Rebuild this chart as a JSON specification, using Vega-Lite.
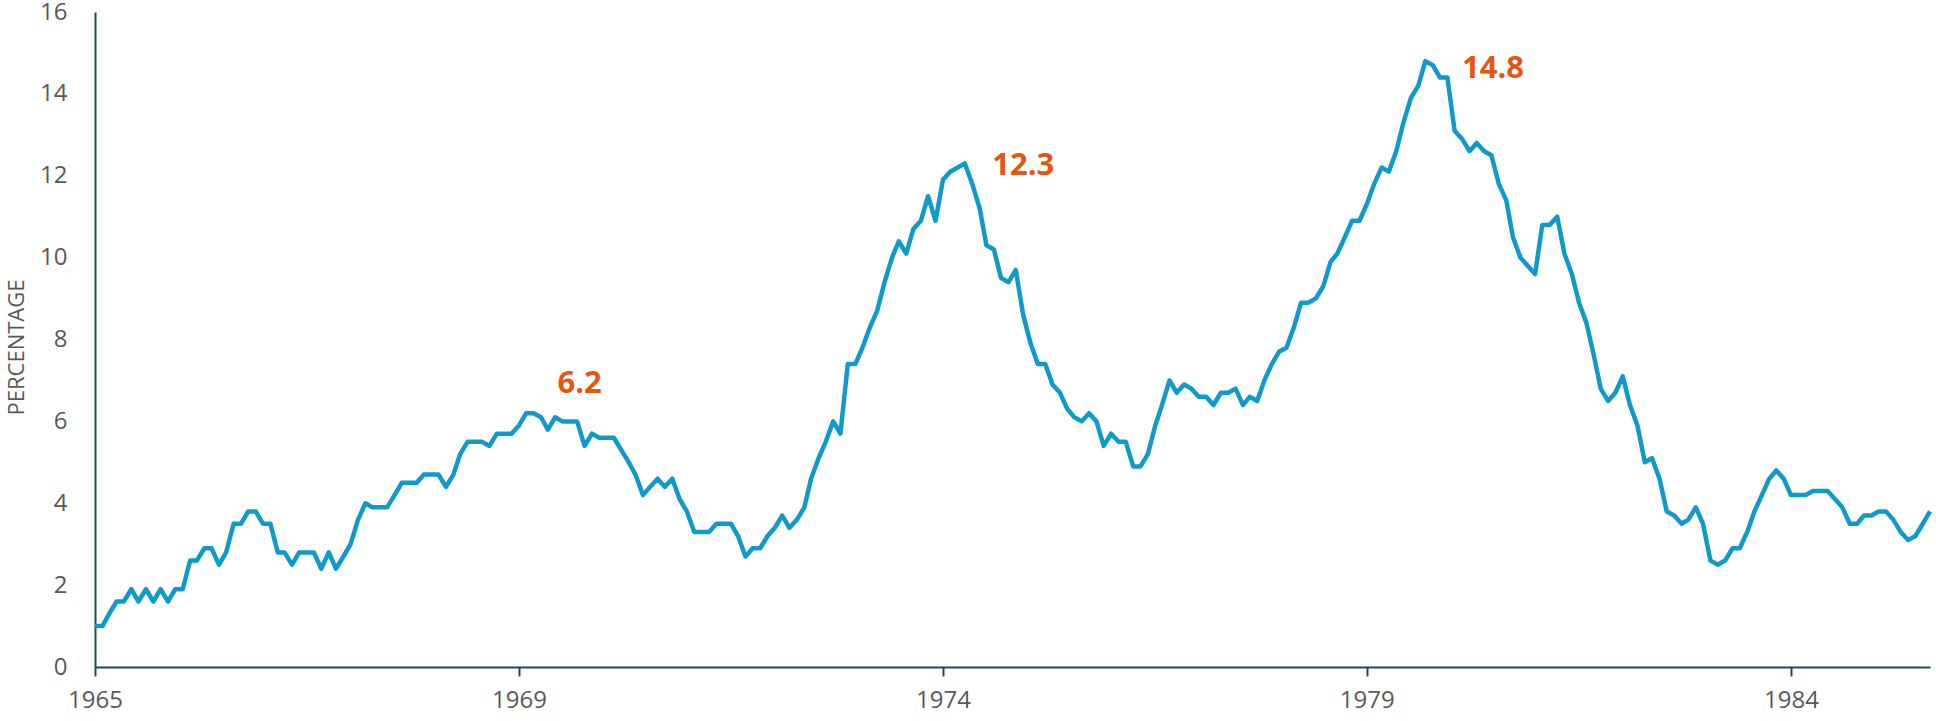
{
  "$schema": "https://vega.github.io/schema/vega-lite/v6.json",
  "autosize": {"type": "none"},
  "padding": {"left": 95, "top": 12, "right": 6, "bottom": 54},
  "width": 1835,
  "height": 655,
  "background": "white",
  "config": {"view": {"stroke": null}, "font": "Open Sans"},
  "layer": [
    {
      "data": {"values": [
        {"d":"1965/01/01","v":1.0},{"d":"1965/02/01","v":1.0},{"d":"1965/03/01","v":1.3},{"d":"1965/04/01","v":1.6},{"d":"1965/05/01","v":1.6},{"d":"1965/06/01","v":1.9},{"d":"1965/07/01","v":1.6},{"d":"1965/08/01","v":1.9},{"d":"1965/09/01","v":1.6},{"d":"1965/10/01","v":1.9},{"d":"1965/11/01","v":1.6},{"d":"1965/12/01","v":1.9},
        {"d":"1966/01/01","v":1.9},{"d":"1966/02/01","v":2.6},{"d":"1966/03/01","v":2.6},{"d":"1966/04/01","v":2.9},{"d":"1966/05/01","v":2.9},{"d":"1966/06/01","v":2.5},{"d":"1966/07/01","v":2.8},{"d":"1966/08/01","v":3.5},{"d":"1966/09/01","v":3.5},{"d":"1966/10/01","v":3.8},{"d":"1966/11/01","v":3.8},{"d":"1966/12/01","v":3.5},
        {"d":"1967/01/01","v":3.5},{"d":"1967/02/01","v":2.8},{"d":"1967/03/01","v":2.8},{"d":"1967/04/01","v":2.5},{"d":"1967/05/01","v":2.8},{"d":"1967/06/01","v":2.8},{"d":"1967/07/01","v":2.8},{"d":"1967/08/01","v":2.4},{"d":"1967/09/01","v":2.8},{"d":"1967/10/01","v":2.4},{"d":"1967/11/01","v":2.7},{"d":"1967/12/01","v":3.0},
        {"d":"1968/01/01","v":3.6},{"d":"1968/02/01","v":4.0},{"d":"1968/03/01","v":3.9},{"d":"1968/04/01","v":3.9},{"d":"1968/05/01","v":3.9},{"d":"1968/06/01","v":4.2},{"d":"1968/07/01","v":4.5},{"d":"1968/08/01","v":4.5},{"d":"1968/09/01","v":4.5},{"d":"1968/10/01","v":4.7},{"d":"1968/11/01","v":4.7},{"d":"1968/12/01","v":4.7},
        {"d":"1969/01/01","v":4.4},{"d":"1969/02/01","v":4.7},{"d":"1969/03/01","v":5.2},{"d":"1969/04/01","v":5.5},{"d":"1969/05/01","v":5.5},{"d":"1969/06/01","v":5.5},{"d":"1969/07/01","v":5.4},{"d":"1969/08/01","v":5.7},{"d":"1969/09/01","v":5.7},{"d":"1969/10/01","v":5.7},{"d":"1969/11/01","v":5.9},{"d":"1969/12/01","v":6.2},
        {"d":"1970/01/01","v":6.2},{"d":"1970/02/01","v":6.1},{"d":"1970/03/01","v":5.8},{"d":"1970/04/01","v":6.1},{"d":"1970/05/01","v":6.0},{"d":"1970/06/01","v":6.0},{"d":"1970/07/01","v":6.0},{"d":"1970/08/01","v":5.4},{"d":"1970/09/01","v":5.7},{"d":"1970/10/01","v":5.6},{"d":"1970/11/01","v":5.6},{"d":"1970/12/01","v":5.6},
        {"d":"1971/01/01","v":5.3},{"d":"1971/02/01","v":5.0},{"d":"1971/03/01","v":4.7},{"d":"1971/04/01","v":4.2},{"d":"1971/05/01","v":4.4},{"d":"1971/06/01","v":4.6},{"d":"1971/07/01","v":4.4},{"d":"1971/08/01","v":4.6},{"d":"1971/09/01","v":4.1},{"d":"1971/10/01","v":3.8},{"d":"1971/11/01","v":3.3},{"d":"1971/12/01","v":3.3},
        {"d":"1972/01/01","v":3.3},{"d":"1972/02/01","v":3.5},{"d":"1972/03/01","v":3.5},{"d":"1972/04/01","v":3.5},{"d":"1972/05/01","v":3.2},{"d":"1972/06/01","v":2.7},{"d":"1972/07/01","v":2.9},{"d":"1972/08/01","v":2.9},{"d":"1972/09/01","v":3.2},{"d":"1972/10/01","v":3.4},{"d":"1972/11/01","v":3.7},{"d":"1972/12/01","v":3.4},
        {"d":"1973/01/01","v":3.6},{"d":"1973/02/01","v":3.9},{"d":"1973/03/01","v":4.6},{"d":"1973/04/01","v":5.1},{"d":"1973/05/01","v":5.5},{"d":"1973/06/01","v":6.0},{"d":"1973/07/01","v":5.7},{"d":"1973/08/01","v":7.4},{"d":"1973/09/01","v":7.4},{"d":"1973/10/01","v":7.8},{"d":"1973/11/01","v":8.3},{"d":"1973/12/01","v":8.7},
        {"d":"1974/01/01","v":9.4},{"d":"1974/02/01","v":10.0},{"d":"1974/03/01","v":10.4},{"d":"1974/04/01","v":10.1},{"d":"1974/05/01","v":10.7},{"d":"1974/06/01","v":10.9},{"d":"1974/07/01","v":11.5},{"d":"1974/08/01","v":10.9},{"d":"1974/09/01","v":11.9},{"d":"1974/10/01","v":12.1},{"d":"1974/11/01","v":12.2},{"d":"1974/12/01","v":12.3},
        {"d":"1975/01/01","v":11.8},{"d":"1975/02/01","v":11.2},{"d":"1975/03/01","v":10.3},{"d":"1975/04/01","v":10.2},{"d":"1975/05/01","v":9.5},{"d":"1975/06/01","v":9.4},{"d":"1975/07/01","v":9.7},{"d":"1975/08/01","v":8.6},{"d":"1975/09/01","v":7.9},{"d":"1975/10/01","v":7.4},{"d":"1975/11/01","v":7.4},{"d":"1975/12/01","v":6.9},
        {"d":"1976/01/01","v":6.7},{"d":"1976/02/01","v":6.3},{"d":"1976/03/01","v":6.1},{"d":"1976/04/01","v":6.0},{"d":"1976/05/01","v":6.2},{"d":"1976/06/01","v":6.0},{"d":"1976/07/01","v":5.4},{"d":"1976/08/01","v":5.7},{"d":"1976/09/01","v":5.5},{"d":"1976/10/01","v":5.5},{"d":"1976/11/01","v":4.9},{"d":"1976/12/01","v":4.9},
        {"d":"1977/01/01","v":5.2},{"d":"1977/02/01","v":5.9},{"d":"1977/03/01","v":6.4},{"d":"1977/04/01","v":7.0},{"d":"1977/05/01","v":6.7},{"d":"1977/06/01","v":6.9},{"d":"1977/07/01","v":6.8},{"d":"1977/08/01","v":6.6},{"d":"1977/09/01","v":6.6},{"d":"1977/10/01","v":6.4},{"d":"1977/11/01","v":6.7},{"d":"1977/12/01","v":6.7},
        {"d":"1978/01/01","v":6.8},{"d":"1978/02/01","v":6.4},{"d":"1978/03/01","v":6.6},{"d":"1978/04/01","v":6.5},{"d":"1978/05/01","v":7.0},{"d":"1978/06/01","v":7.4},{"d":"1978/07/01","v":7.7},{"d":"1978/08/01","v":7.8},{"d":"1978/09/01","v":8.3},{"d":"1978/10/01","v":8.9},{"d":"1978/11/01","v":8.9},{"d":"1978/12/01","v":9.0},
        {"d":"1979/01/01","v":9.3},{"d":"1979/02/01","v":9.9},{"d":"1979/03/01","v":10.1},{"d":"1979/04/01","v":10.5},{"d":"1979/05/01","v":10.9},{"d":"1979/06/01","v":10.9},{"d":"1979/07/01","v":11.3},{"d":"1979/08/01","v":11.8},{"d":"1979/09/01","v":12.2},{"d":"1979/10/01","v":12.1},{"d":"1979/11/01","v":12.6},{"d":"1979/12/01","v":13.3},
        {"d":"1980/01/01","v":13.9},{"d":"1980/02/01","v":14.2},{"d":"1980/03/01","v":14.8},{"d":"1980/04/01","v":14.7},{"d":"1980/05/01","v":14.4},{"d":"1980/06/01","v":14.4},{"d":"1980/07/01","v":13.1},{"d":"1980/08/01","v":12.9},{"d":"1980/09/01","v":12.6},{"d":"1980/10/01","v":12.8},{"d":"1980/11/01","v":12.6},{"d":"1980/12/01","v":12.5},
        {"d":"1981/01/01","v":11.8},{"d":"1981/02/01","v":11.4},{"d":"1981/03/01","v":10.5},{"d":"1981/04/01","v":10.0},{"d":"1981/05/01","v":9.8},{"d":"1981/06/01","v":9.6},{"d":"1981/07/01","v":10.8},{"d":"1981/08/01","v":10.8},{"d":"1981/09/01","v":11.0},{"d":"1981/10/01","v":10.1},{"d":"1981/11/01","v":9.6},{"d":"1981/12/01","v":8.9},
        {"d":"1982/01/01","v":8.4},{"d":"1982/02/01","v":7.6},{"d":"1982/03/01","v":6.8},{"d":"1982/04/01","v":6.5},{"d":"1982/05/01","v":6.7},{"d":"1982/06/01","v":7.1},{"d":"1982/07/01","v":6.4},{"d":"1982/08/01","v":5.9},{"d":"1982/09/01","v":5.0},{"d":"1982/10/01","v":5.1},{"d":"1982/11/01","v":4.6},{"d":"1982/12/01","v":3.8},
        {"d":"1983/01/01","v":3.7},{"d":"1983/02/01","v":3.5},{"d":"1983/03/01","v":3.6},{"d":"1983/04/01","v":3.9},{"d":"1983/05/01","v":3.5},{"d":"1983/06/01","v":2.6},{"d":"1983/07/01","v":2.5},{"d":"1983/08/01","v":2.6},{"d":"1983/09/01","v":2.9},{"d":"1983/10/01","v":2.9},{"d":"1983/11/01","v":3.3},{"d":"1983/12/01","v":3.8},
        {"d":"1984/01/01","v":4.2},{"d":"1984/02/01","v":4.6},{"d":"1984/03/01","v":4.8},{"d":"1984/04/01","v":4.6},{"d":"1984/05/01","v":4.2},{"d":"1984/06/01","v":4.2},{"d":"1984/07/01","v":4.2},{"d":"1984/08/01","v":4.3},{"d":"1984/09/01","v":4.3},{"d":"1984/10/01","v":4.3},{"d":"1984/11/01","v":4.1},{"d":"1984/12/01","v":3.9},
        {"d":"1985/01/01","v":3.5},{"d":"1985/02/01","v":3.5},{"d":"1985/03/01","v":3.7},{"d":"1985/04/01","v":3.7},{"d":"1985/05/01","v":3.8},{"d":"1985/06/01","v":3.8},{"d":"1985/07/01","v":3.6},{"d":"1985/08/01","v":3.3},{"d":"1985/09/01","v":3.1},{"d":"1985/10/01","v":3.2},{"d":"1985/11/01","v":3.5},{"d":"1985/12/01","v":3.8}
      ]},
      "mark": {"type": "line", "color": "#109ACB", "strokeWidth": 4.5, "strokeJoin": "round", "clip": false},
      "encoding": {
        "x": {
          "field": "d", "type": "temporal",
          "scale": {"domain": [{"year": 1965, "month": 1, "date": 1}, {"year": 1985, "month": 12, "date": 1}], "nice": false},
          "axis": {
            "title": null,
            "values": [
              {"year": 1965, "month": 1, "date": 1},
              {"year": 1969, "month": 11, "date": 1},
              {"year": 1974, "month": 9, "date": 1},
              {"year": 1979, "month": 7, "date": 1},
              {"year": 1984, "month": 5, "date": 1}
            ],
            "format": "%Y",
            "grid": false,
            "domainColor": "#1C4B5C", "domainWidth": 2,
            "tickColor": "#1C4B5C", "tickWidth": 2, "tickSize": 9,
            "labelColor": "#595959", "labelFontSize": 24, "labelPadding": 12,
            "labelFlush": false, "labelOverlap": false
          }
        },
        "y": {
          "field": "v", "type": "quantitative",
          "scale": {"domain": [0, 16], "nice": false},
          "axis": {
            "title": "PERCENTAGE",
            "titleColor": "#595959", "titleFontSize": 22, "titleFontWeight": "normal",
            "titleX": -72, "titleY": 335, "titleBaseline": "alphabetic", "titleAngle": -90, "titleAlign": "center",
            "values": [0, 2, 4, 6, 8, 10, 12, 14, 16],
            "grid": false, "ticks": false, "tickSize": 0,
            "domainColor": "#1C4B5C", "domainWidth": 2,
            "labelColor": "#595959", "labelFontSize": 24, "labelPadding": 28
          }
        }
      }
    },
    {
      "data": {"values": [
        {"d": "1970/04/10", "v": 6.7, "label": "6.2"},
        {"d": "1975/03/25", "v": 12.03, "label": "12.3"},
        {"d": "1980/08/01", "v": 14.4, "label": "14.8"}
      ]},
      "mark": {"type": "text", "align": "left", "baseline": "alphabetic", "color": "#E4570E", "fontSize": 31, "fontWeight": "bold", "font": "Open Sans"},
      "encoding": {
        "x": {"field": "d", "type": "temporal"},
        "y": {"field": "v", "type": "quantitative"},
        "text": {"field": "label"}
      }
    }
  ]
}
